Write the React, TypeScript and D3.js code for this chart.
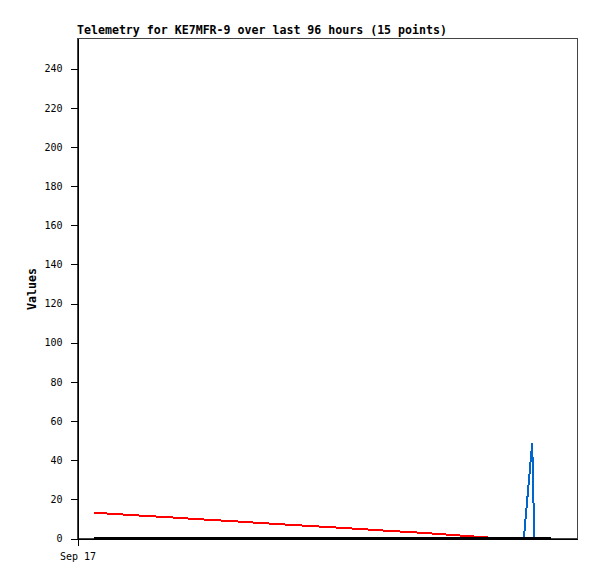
import React, { useEffect, useRef } from 'react';
import * as d3 from 'd3';

// telemetry window start, offsets of the 15 samples (hours)
const startTime = new Date(2023, 8, 17, 0, 0, 0);
const windowHours = 96;
const sampleHours = [3.3, 10, 17, 24, 31, 38, 45, 52, 59, 66, 80.3, 85.8, 87.4, 87.8, 91.0];

const seriesRed = [12.9, 11.8, 10.7, 9.5, 8.4, 7.2, 6.1, 5.0, 3.8, 2.7, 0, 0, 0, 0, 0];
const seriesBlue = [0, 0, 0, 0, 0, 0, 0, 0, 0, 0, 0, 0, 48.5, 0, 0];
const seriesBlack = [0, 0, 0, 0, 0, 0, 0, 0, 0, 0, 0, 0, 0, 0, 0];

const yTicks = [0, 20, 40, 60, 80, 100, 120, 140, 160, 180, 200, 220, 240];
const titleText = 'Telemetry for KE7MFR-9 over last 96 hours (15 points)';
const yLabel = 'Values';

const App = () => {
  const svgRef = useRef<SVGSVGElement>(null);

  useEffect(() => {
    const width = 597;
    const height = 579;
    const margin = { top: 38, right: 20, bottom: 41, left: 77 };

    svgRef.current!.innerHTML = '';
    const svg = d3.select(svgRef.current)
      .attr('width', width)
      .attr('height', height);

    const endTime = new Date(startTime.getTime() + windowHours * 3600e3);
    const x = d3.scaleTime()
      .domain([startTime, endTime])
      .range([margin.left, width - margin.right]);
    const y = d3.scaleLinear()
      .domain([0, 255.4])
      .range([height - margin.bottom, margin.top]);

    const times = sampleHours.map(h => new Date(startTime.getTime() + h * 3600e3));

    const mono = '"DejaVu Sans Mono", "Liberation Mono", monospace';

    // frame
    svg.append('rect')
      .attr('x', margin.left + 0.5)
      .attr('y', margin.top + 0.5)
      .attr('width', width - margin.left - margin.right)
      .attr('height', height - margin.top - margin.bottom)
      .attr('fill', 'none')
      .attr('stroke', '#444')
      .attr('shape-rendering', 'crispEdges');

    const yAxis = svg.append('g')
      .attr('transform', `translate(${margin.left + 0.5},0.5)`)
      .call(d3.axisLeft(y).tickValues(yTicks).tickSize(7).tickSizeOuter(0).tickPadding(8)
        .tickFormat(d3.format('d')));
    yAxis.select('.domain').attr('stroke', '#000');
    yAxis.selectAll('text')
      .attr('font-family', mono)
      .attr('font-size', 10)
      .attr('fill', '#000');
    yAxis.attr('shape-rendering', 'crispEdges');

    const xAxis = svg.append('g')
      .attr('transform', `translate(0.5,${height - margin.bottom + 0.5})`)
      .call(d3.axisBottom(x).tickValues([startTime]).tickSize(7).tickSizeOuter(0).tickPadding(7)
        .tickFormat(d => d3.timeFormat('%b %d')(d as Date)));
    xAxis.select('.domain').attr('stroke', '#000');
    xAxis.selectAll('text')
      .attr('font-family', mono)
      .attr('font-size', 10)
      .attr('fill', '#000');
    xAxis.attr('shape-rendering', 'crispEdges');

    const line = (vals: number[]) => d3.line<number>()
      .x((_, i) => x(times[i]))
      .y(d => y(d))(vals);

    const draw = (vals: number[], color: string, w: number) => {
      svg.append('path')
        .attr('d', line(vals))
        .attr('fill', 'none')
        .attr('stroke', color)
        .attr('stroke-width', w)
        .attr('shape-rendering', 'crispEdges');
    };
    draw(seriesRed, '#ff0000', 2);
    draw(seriesBlue, '#0066cc', 2);
    draw(seriesBlack, '#000000', 2);

    svg.append('text')
      .attr('x', margin.left)
      .attr('y', 34)
      .attr('font-family', mono)
      .attr('font-size', 11.6)
      .attr('font-weight', 'bold')
      .text(titleText);

    svg.append('text')
      .attr('transform', `translate(32,289) rotate(-90)`)
      .attr('text-anchor', 'middle')
      .attr('dominant-baseline', 'central')
      .attr('font-family', mono)
      .attr('font-size', 11.6)
      .attr('font-weight', 'bold')
      .text(yLabel);
  }, []);

  return (
    <svg ref={svgRef} style={{ position: 'absolute', left: 0, top: 0, background: '#fff' }}></svg>
  );
};

export default App;
